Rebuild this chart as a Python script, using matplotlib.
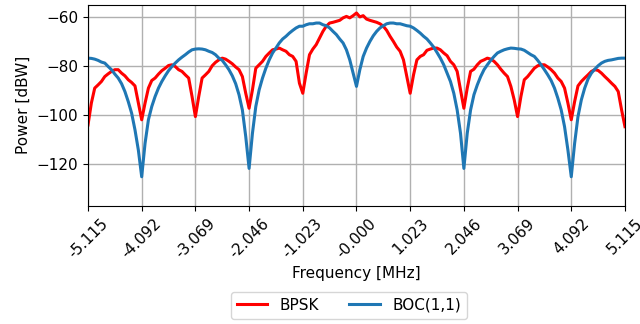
import numpy as np
import matplotlib
matplotlib.use("Agg")
import matplotlib.pyplot as plt

# Frequency grid: 1/16-chip steps of the 1.023 MHz chipping rate, -5 to +5 chips
chip_rate = 1.023
freq_mhz = np.linspace(-5 * chip_rate, 5 * chip_rate, 161)

# Measured power spectral densities [dBW], one row per chip interval
bpsk_dbw = [
    -104.1, -95.2, -89.1, -87.8, -86.4, -84.4, -83.3, -82.3, -81.6, -81.6, -83.0, -84.1, -85.7, -86.8, -88.2, -95.2,
    -102.0, -95.2, -89.1, -86.0, -85.0, -83.4, -82.0, -81.0, -79.9, -79.6, -80.3, -81.6, -82.3, -83.7, -85.0, -92.5,
    -100.7, -92.5, -85.0, -83.7, -82.3, -80.0, -78.6, -77.6, -76.9, -77.3, -78.2, -79.2, -80.5, -81.6, -84.4, -91.2,
    -97.3, -89.8, -81.0, -79.6, -78.2, -76.2, -74.8, -73.5, -73.2, -72.8, -73.5, -74.1, -75.5, -76.2, -78.2, -87.1,
    -91.2, -83.0, -75.5, -73.2, -71.4, -68.7, -66.0, -63.9, -62.6, -62.3, -61.9, -61.5, -60.5, -59.9, -60.5, -59.6,
    -58.5, -60.1, -59.6, -61.0, -61.5, -61.9, -62.3, -62.9, -63.9, -65.6, -68.0, -70.1, -72.4, -74.1, -77.6, -84.4,
    -91.2, -83.7, -77.6, -76.2, -75.5, -73.7, -73.2, -72.8, -72.8, -73.5, -74.8, -75.9, -78.2, -79.6, -82.3, -89.8,
    -97.3, -89.1, -82.3, -81.4, -79.6, -78.2, -77.6, -76.9, -77.3, -78.2, -79.6, -81.4, -83.0, -84.4, -88.4, -93.9,
    -100.7, -92.5, -85.7, -84.4, -82.7, -81.0, -80.0, -79.6, -79.6, -80.5, -81.6, -83.0, -85.0, -86.4, -89.1, -95.2,
    -102.0, -94.6, -88.2, -86.4, -85.0, -83.7, -82.3, -81.6, -81.9, -83.0, -84.4, -85.7, -87.1, -88.4, -90.5, -98.0,
    -104.8,
]

boc11_dbw = [
    -76.9, -77.0, -77.3, -77.8, -78.5, -78.9, -80.3, -81.6, -83.4, -85.0, -87.3, -90.5, -94.6, -99.3, -106.1, -114.3,
    -125.2, -111.6, -102.0, -96.6, -92.5, -89.1, -86.4, -84.1, -82.0, -80.3, -78.9, -77.6, -76.5, -75.5, -74.4, -73.5,
    -73.2, -73.1, -73.2, -73.5, -74.1, -74.6, -75.5, -76.9, -77.8, -79.6, -81.6, -84.1, -87.3, -91.8, -98.0, -108.8,
    -121.8, -107.5, -96.6, -89.8, -85.0, -81.0, -77.6, -74.8, -72.8, -70.7, -69.1, -68.0, -66.7, -65.6, -64.6, -63.9,
    -63.9, -63.3, -62.9, -62.9, -62.6, -62.6, -63.3, -63.7, -64.6, -66.0, -67.3, -69.1, -70.7, -73.5, -77.6, -83.0,
    -88.4, -81.6, -76.2, -72.8, -70.1, -67.8, -66.0, -64.6, -63.7, -62.9, -62.6, -62.6, -62.9, -62.9, -63.3, -63.7,
    -63.9, -64.6, -65.6, -66.7, -68.0, -69.1, -70.7, -72.4, -74.6, -76.9, -79.6, -83.0, -86.4, -91.2, -98.0, -107.5,
    -121.8, -107.5, -98.0, -91.8, -87.8, -84.4, -81.6, -79.6, -77.8, -76.2, -74.8, -74.1, -73.5, -73.1, -72.8, -72.9,
    -73.1, -73.2, -73.7, -74.6, -75.5, -76.2, -77.8, -79.6, -81.6, -83.7, -86.0, -89.1, -93.2, -98.0, -104.8, -114.3,
    -125.2, -111.6, -100.7, -93.9, -89.1, -85.4, -83.0, -81.4, -80.0, -78.9, -78.2, -77.8, -77.6, -77.3, -77.0, -76.9,
    -76.9,
]

tick_freqs = [-5.115, -4.092, -3.069, -2.046, -1.023, 0.0,
              1.023, 2.046, 3.069, 4.092, 5.115]
tick_labels = ["-5.115", "-4.092", "-3.069", "-2.046", "-1.023", "-0.000",
               "1.023", "2.046", "3.069", "4.092", "5.115"]

plt.rcParams["font.family"] = "DejaVu Sans"
plt.rcParams["font.size"] = 11

fig = plt.figure(figsize=(6.4, 3.24), dpi=100)
ax = fig.add_axes([0.1375, 0.365, 0.839, 0.62])

ax.plot(freq_mhz, bpsk_dbw, color="red", lw=2.2, label="BPSK")
ax.plot(freq_mhz, boc11_dbw, color="#1f77b4", lw=2.2, label="BOC(1,1)")

ax.set_xlim(-5.115, 5.115)
ax.set_ylim(-137, -55.2)
ax.set_yticks([-60, -80, -100, -120])
ax.set_xticks(tick_freqs)
ax.set_xticklabels(tick_labels, rotation=45)
ax.grid(True, color="#b0b0b0", lw=1.0)
ax.set_axisbelow(True)

ax.set_xlabel("Frequency [MHz]")
ax.set_ylabel("Power [dBW]")

fig.legend(loc="lower center", bbox_to_anchor=(0.545, -0.008), ncol=2,
           frameon=True, columnspacing=2.0)

fig.savefig("out.png", dpi=100)
